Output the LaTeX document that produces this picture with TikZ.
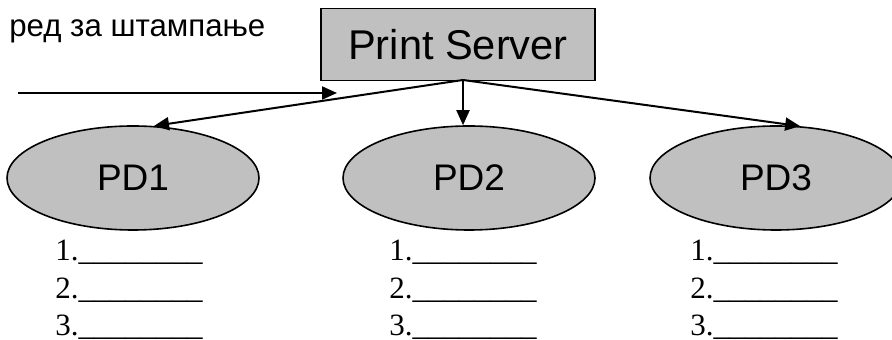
\documentclass[tikz,border=0pt]{standalone}
\usepackage{fontspec}
\setmainfont{Liberation Serif}
\setsansfont{Liberation Sans}
\usetikzlibrary{arrows.meta, positioning, shapes.geometric}
\definecolor{fillgray}{HTML}{C0C0C0}
\tikzset{
  font=\sffamily,
  >={Triangle[length=7.5pt, width=6.5pt]},
  %
  server/.style={
    draw=black, line width=0.6pt, fill=fillgray, inner sep=0pt,
    minimum width=137pt, minimum height=36pt,
    font=\sffamily\fontsize{20.8}{25}\selectfont,
  },
  dev/.style={
    ellipse, draw=black, line width=0.8pt, fill=fillgray, inner sep=0pt,
    minimum width=126pt, minimum height=52pt,
    font=\sffamily\fontsize{18.5}{22}\selectfont,
  },
  %
  flow/.style={draw=black, line width=1pt, ->},
  %
  lbl/.style={font=\sffamily\fontsize{15.6}{18.7}\selectfont, anchor=base west,
              inner sep=0pt},
  slot/.style={font=\rmfamily\fontsize{15.5}{18.6}\selectfont,
               anchor=base west, inner sep=0pt},
}

\begin{document}
\begin{tikzpicture}[x=0.5pt, y=-0.5pt]

\useasboundingbox (0,0) rectangle (892,340);

% ---------------------------------------------------------------- server
\node[lbl] (queue) at (9,37) {ред за штампање};
\node[server] (ps) at (458,44.5) {Print Server};

% --------------------------------------------------------------- devices
\node[dev] (pd1) at (133,178) {PD1};
\node[dev] (pd2) at (469,178) {PD2};
\node[dev] (pd3) at (776,178) {PD3};

\coordinate (fork) at (463,80);
\draw[flow] (fork) -- (pd1.68);
\draw[flow] (fork) -- (fork |- pd2.north);
\draw[flow] (fork) -- (pd3.65);

\coordinate (qstart) at (18,93);
\coordinate (qend) at (337,93);
\draw[flow] (qstart) -- (qend);

% ----------------------------------------------------------------- slots
\foreach \col/\x in {1/55, 2/389, 3/690} {
  \foreach \n/\y in {1/261, 2/298.5, 3/336} {
    \node[slot] (s\col-\n) at (\x,\y) {\n.\_\_\_\_\_\_\_\_};
  }
}

\end{tikzpicture}
\end{document}
